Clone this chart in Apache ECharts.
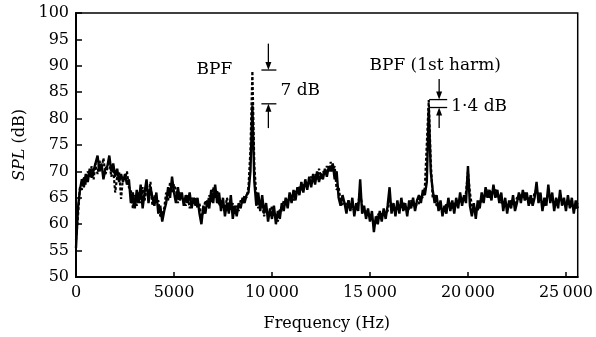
<!DOCTYPE html>
<html><head><meta charset="utf-8">
<script src="https://cdn.jsdelivr.net/npm/echarts@6/dist/echarts.min.js"></script>
<style>html,body{margin:0;padding:0;background:#fff}#c{width:596px;height:337px}</style>
</head><body><div id="c"></div>
<script>
const freqStartHz = 0;
const freqStepHz = 100;

// SPL (dB) – solid trace (100 Hz spacing)
const splSolid = [
 55.5,63,66.5,68.5,67,69.5,68,70.5,68.8,70.2,
 70.5,73,70,71.5,68.5,70.5,71,73,70,71.5,
 69,70.5,68,69.5,68,69.5,67.5,68.5,64,66,
 63,66.5,64,67.5,63,66,68.5,64,67,65,
 63.5,66,62,63.5,60.5,62.5,64,67,65,69,66,
 64,67,64.5,66,63.5,65.5,64,66,63,65,
 63.5,65,62,60,63.5,62,64.5,63,66.5,64,
 67.5,64,66,62.5,65,61.5,64,62,65.5,61,
 63.5,61.5,64,63,65,64,65.5,66,70,82.5,
 68,63.5,66,62.5,65.5,62,64,60.5,63,61,
 63.5,60,62.5,61,64,62.5,65,63,66,64,
 66.5,64.5,67,65.5,68,66,68.5,66.5,69,67,
 69.5,67.5,70,68,69.5,68.5,70.5,69,71,70,
 71.5,68.5,70,65,63.5,65.5,64,62,64.5,62.5,65,
 61.5,64,62.5,68.5,62,63.5,61,63,60.5,62.5,
 58.5,61.5,60,62.5,60.5,63,61,63.5,67,62,
 64,61.5,64.5,62,65,62.5,64,61.5,64.5,63,
 65,62.5,64.5,65.5,64,66.5,65.5,68,82,70,
 66.5,64,65.5,62.5,64.5,61.5,63.5,62,65,62.5,
 64.5,62,65,63,66,63.5,65.5,64,71,63.5,
 61.5,64,61,64.5,63,66,64,67,65,66.5,
 64.5,67.5,65,66.5,64,66,62.5,65,62,64.5,
 63,65.5,62.5,64,66,64,66.5,64.5,66,63.5,
 65.5,63.5,65,68,64,66,62.5,65,63.5,67.5,
 64,66,62.5,65,63,66.5,63.5,65,62.5,65.5,
 63,65,62,64.5,63
];

// SPL (dB) – dashed trace
const splDashed = [
 57,61.5,67,66.5,69,67.5,70,69,71,68.5,
 71.5,69.5,72,70.5,72.5,69.5,70.5,72,69,70.5,
 66,69,70,64.8,69,68.5,70,67,66.5,63,
 65.5,63.5,66,64,67,64.5,66.5,65.5,68,63.5,
 65.5,64,64.5,61.5,62,63,66,64.5,68,66,67.5,
 66.5,64,66,65,64.5,63.5,65.5,63,65,64,
 65,63,64,61,62.5,64.5,63.5,65.5,64,67,
 65,66.5,63.5,64.5,63,62.5,65,63.5,62.5,64,
 62,63.5,62.5,64.5,64,65.5,65,67,74,89,
 71,65.5,63,64.5,63.5,61.5,63,62,61.5,63.5,
 61.5,62,60.5,63,62.5,64.5,63.5,64.5,65,65.5,
 64.5,66,66.5,67,66.5,67.5,67,67.5,68,69,
 68,69.5,68.5,70.5,69,70,69.5,71,70,71.8,
 70,71,66.5,67,64.5,63.5,64,63.5,64.5,63.5,63,
 63,62.5,64,66,63.5,62,62.5,62,61.5,61,
 60.5,60,62,61.5,62,61.5,62,62.5,64.5,63.5,
 62.5,63,63,63.5,63,64,63.5,62.5,63,64.5,
 63.5,64,63.5,64,65.5,65,67,67,83.5,72,
 65,65.5,63.5,64,63,63,62.5,64,63.5,64,
 63,64,63.5,64.5,64,65,64.5,66,70,66,
 63.5,62.5,63,62.5,64.5,64,65,65.5,66.5,65,
 66,66,66.5,65,65.5,64,64.5,63.5,64,63,
 64.5,64,63.5,65,65,65.5,65,66,64.5,65,
 64,64.5,66,66.5,65.5,64.5,64,63.5,65,65.5,
 65.5,64.5,64,63.5,64.5,65,64.5,64,63.5,64.5,
 64.5,63.5,63.5,63,64
];

const xTickValues = [0, 5000, 10000, 15000, 20000, 25000];
const xTickLabels = ['0', '5000', '10\u2009000', '15\u2009000', '20\u2009000', '25\u2009000'];
const yTickLabels = ['50','55','60','65','70','75','80','85','90','95','100'];

function pairs(arr){ return arr.map((v,i)=>[freqStartHz + i*freqStepHz, v]); }

const FONT = 'DejaVu Serif';
const chart = echarts.init(document.getElementById('c'), null, {renderer:'canvas'});
chart.setOption({
  animation:false,
  backgroundColor:'#fff',
  grid:{left:76, right:16, top:13, bottom:59, show:true, borderColor:'#000', borderWidth:1.5, backgroundColor:'transparent'},
  xAxis:{
    type:'value', min:0, max:25600, interval:5000,
    axisLine:{show:true, onZero:false, lineStyle:{color:'#000', width:2}},
    axisTick:{show:true, inside:true, length:5, lineStyle:{color:'#000', width:1.5}},
    splitLine:{show:false},
    axisLabel:{color:'#000', fontFamily:FONT, fontSize:16, margin:8, showMaxLabel:false,
      formatter:(v)=>{const k=xTickValues.indexOf(v); return k<0?'':xTickLabels[k];}},
    name:'Frequency (Hz)', nameLocation:'middle', nameGap:39,
    nameTextStyle:{color:'#000', fontFamily:FONT, fontSize:16}
  },
  yAxis:{
    type:'value', min:50, max:100, interval:5,
    axisLine:{show:true, lineStyle:{color:'#000', width:2}},
    axisTick:{show:true, inside:true, length:6, lineStyle:{color:'#000', width:1.5}},
    splitLine:{show:false},
    axisLabel:{color:'#000', fontFamily:FONT, fontSize:16, margin:7,
      formatter:(v)=>{const k=Math.round((v-50)/5); return yTickLabels[k]||'';}},
    name:'{i|SPL} (dB)', nameLocation:'middle', nameGap:46, nameRotate:90,
    nameTextStyle:{color:'#000', fontFamily:FONT, fontSize:16,
      rich:{i:{fontStyle:'italic', fontFamily:FONT, fontSize:16, color:'#000'}}}
  },
  series:[
    {type:'line', data:pairs(splDashed), showSymbol:false, symbol:'none', z:2,
      lineStyle:{color:'#000', width:2.2, type:[3,2]}},
    {type:'line', data:pairs(splSolid), showSymbol:false, symbol:'none', z:3,
      lineStyle:{color:'#000', width:2.4}}
  ]
});

// annotations placed in data coordinates
function P(f, v){ return chart.convertToPixel({gridIndex:0}, [f, v]); }
function hline(f1, f2, v){ const a=P(f1,v), b=P(f2,v); return {type:'line', shape:{x1:a[0],y1:a[1],x2:b[0],y2:b[1]}, style:{stroke:'#000', lineWidth:1.3}}; }
function arrow(f, vTail, vHead){
  const t=P(f,vTail), h=P(f,vHead); const dir = h[1]>t[1]?1:-1;
  return [
    {type:'line', shape:{x1:t[0],y1:t[1],x2:h[0],y2:h[1]-dir*5}, style:{stroke:'#000', lineWidth:1.3}},
    {type:'polygon', shape:{points:[[h[0],h[1]],[h[0]-3,h[1]-dir*8],[h[0]+3,h[1]-dir*8]]}, style:{fill:'#000'}}
  ];
}
function label(f, v, text, align){ const p=P(f,v); return {type:'text', x:p[0], y:p[1], style:{text:text, fill:'#000', font:'17px "DejaVu Serif"', textAlign:align||'left', textVerticalAlign:'middle'}}; }

const g = [];
g.push(label(7064, 89.2, 'BPF', 'center'));
g.push(...arrow(9816, 94.2, 89.2));
g.push(hline(9460, 10225, 89.2));
g.push(hline(9460, 10225, 82.8));
g.push(...arrow(9816, 78.2, 82.8));
g.push(label(10430, 85.3, '7 dB'));
g.push(label(18330, 90.1, 'BPF (1st harm)', 'center'));
g.push(...arrow(18530, 87.5, 83.6));
g.push(hline(18020, 18940, 83.6));
g.push(hline(18020, 18940, 82.1));
g.push(...arrow(18530, 78.2, 82.1));
g.push(label(19145, 82.3, '1\u00b74 dB'));
chart.setOption({graphic:g});
</script>
</body></html>
